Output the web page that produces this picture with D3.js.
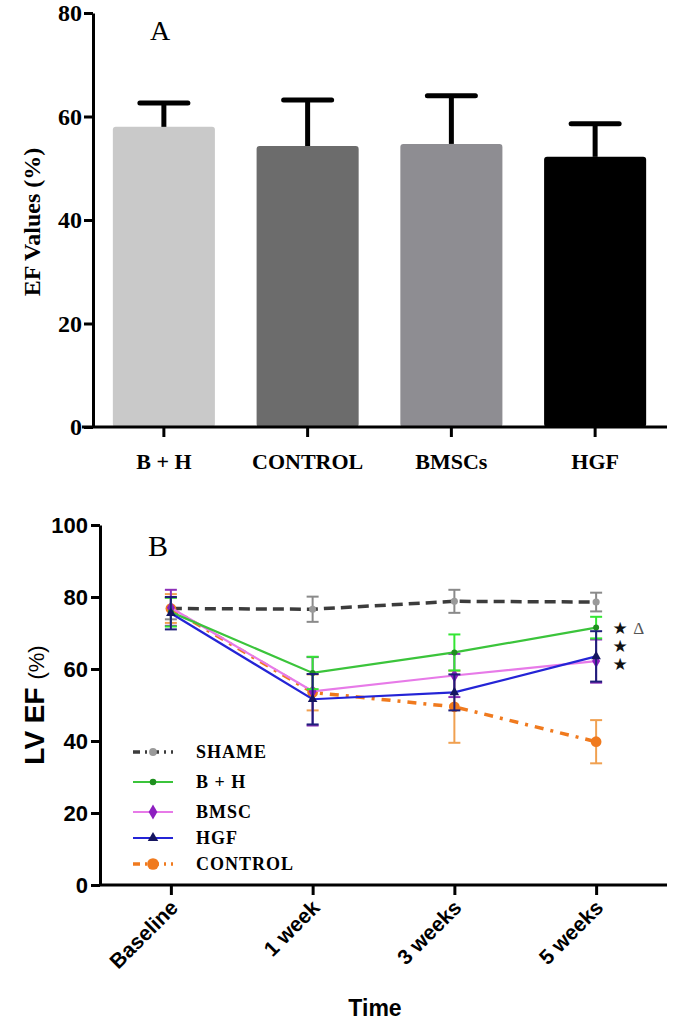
<!DOCTYPE html>
<html>
<head>
<meta charset="utf-8">
<script src="https://cdn.jsdelivr.net/npm/d3@7"></script>
<style>
  body { margin: 0; background: #fff; }
  svg { display: block; }
</style>
</head>
<body>
<svg id="chart" width="675" height="1028"></svg>
<script>
// ---- panel A data ----
const barGroups = ["B + H", "CONTROL", "BMSCs", "HGF"];
const barMeans = [58.0, 54.3, 54.7, 52.2];
const barErrors = [4.6, 8.9, 9.3, 6.4];
const barTicks = [0, 20, 40, 60, 80];

// ---- panel B data ----
const timePoints = ["Baseline", "1 week", "3 weeks", "5 weeks"];
const seriesNames = ["SHAME", "B + H", "BMSC", "HGF", "CONTROL"];
const shameMeans = [76.8, 76.6, 78.8, 78.6];
const shameErrors = [3.0, 3.5, 3.2, 2.6];
const bhMeans = [75.8, 58.9, 64.6, 71.5];
const bhErrors = [4.0, 4.5, 5.0, 3.0];
const bmscMeans = [77.0, 53.8, 58.2, 62.2];
const bmscErrors = [5.0, 9.5, 6.0, 6.0];
const hgfMeans = [75.5, 51.6, 53.5, 63.5];
const hgfErrors = [4.5, 7.0, 5.0, 7.0];
const controlMeans = [76.8, 53.5, 49.5, 39.8];
const controlErrors = [4.0, 5.0, 10.0, 6.0];
const lineTicks = [0, 20, 40, 60, 80, 100];
const starLevels = [71.5, 66.5, 61.5];

const svg = d3.select("#chart");
const serif = "'Liberation Serif', 'Times New Roman', serif";
const sans = "'Liberation Sans', Arial, sans-serif";

// ================= panel A =================
const barColours = ["#c9c9c9", "#6c6c6c", "#8e8d92", "#000000"];
const xA = d3.scaleBand().domain(barGroups).range([92, 667])
  .paddingInner(0.29).paddingOuter(0.145);
const yA = d3.scaleLinear().domain([0, 80]).range([427, 13]);

const gA = svg.append("g");

gA.selectAll(".bar")
  .data(barGroups)
  .enter()
  .append("rect")
  .attr("class", "bar")
  .attr("x", (d) => xA(d))
  .attr("width", xA.bandwidth())
  .attr("y", (d, i) => yA(barMeans[i]))
  .attr("height", (d, i) => yA(0) - yA(barMeans[i]))
  .attr("rx", 3)
  .attr("fill", (d, i) => barColours[i]);

// upward error bars only
const errA = gA.selectAll(".err").data(barGroups).enter().append("g");
errA.append("line")
  .attr("x1", (d) => xA(d) + xA.bandwidth() / 2)
  .attr("x2", (d) => xA(d) + xA.bandwidth() / 2)
  .attr("y1", (d, i) => yA(barMeans[i]))
  .attr("y2", (d, i) => yA(barMeans[i] + barErrors[i]))
  .attr("stroke", "#000").attr("stroke-width", 5);
errA.append("line")
  .attr("x1", (d) => xA(d) + xA.bandwidth() / 2 - 24)
  .attr("x2", (d) => xA(d) + xA.bandwidth() / 2 + 24)
  .attr("y1", (d, i) => yA(barMeans[i] + barErrors[i]))
  .attr("y2", (d, i) => yA(barMeans[i] + barErrors[i]))
  .attr("stroke", "#000").attr("stroke-width", 5).attr("stroke-linecap", "round");

const axA = gA.append("g").attr("transform", "translate(93,0)")
  .call(d3.axisLeft(yA).tickValues(barTicks).tickSize(9).tickPadding(2).tickSizeOuter(0));
axA.selectAll("text").attr("font-family", serif).attr("font-weight", "bold")
  .attr("font-size", 24).attr("fill", "#000");

const axAx = gA.append("g").attr("transform", "translate(0,427)")
  .call(d3.axisBottom(xA).tickSize(10).tickPadding(16).tickSizeOuter(0));
axAx.selectAll("text").attr("font-family", serif).attr("font-weight", "bold")
  .attr("font-size", 22).attr("fill", "#000");
axAx.select(".domain").attr("d", "M82,0H667");
[axA, axAx].forEach((a) => {
  a.select(".domain").attr("stroke", "#000").attr("stroke-width", 3);
  a.selectAll(".tick line").attr("stroke", "#000").attr("stroke-width", 3);
});

gA.append("text")
  .attr("transform", "translate(40,222) rotate(-90)")
  .attr("text-anchor", "middle")
  .attr("font-family", serif).attr("font-weight", "bold").attr("font-size", 24)
  .text("EF Values (%)");

gA.append("text").attr("x", 160).attr("y", 40).attr("text-anchor", "middle")
  .attr("font-family", serif).attr("font-size", 28).text("A");

// ================= panel B =================
const xB = d3.scalePoint().domain(timePoints).range([100, 667]).padding(0.5);
const yB = d3.scaleLinear().domain([0, 100]).range([885, 525]);

const gB = svg.append("g");

const series = [
  { name: "SHAME", means: shameMeans, errs: shameErrors, line: "#3c3c3c", err: "#8a8a8a",
    mark: "#9a9a9a", dash: "11,6", width: 3.5, symbol: d3.symbolCircle, size: 40 },
  { name: "CONTROL", means: controlMeans, errs: controlErrors, line: "#f07a1e", err: "#f0a050",
    mark: "#f07a1e", dash: "9,7,3,7", width: 3.5, symbol: d3.symbolCircle, size: 90 },
  { name: "BMSC", means: bmscMeans, errs: bmscErrors, line: "#e77ae8", err: "#8d2fb8",
    mark: "#8d1fc0", dash: null, width: 2.2, symbol: d3.symbolDiamond, size: 55 },
  { name: "B + H", means: bhMeans, errs: bhErrors, line: "#3bc43b", err: "#33e633",
    mark: "#1f8f1f", dash: null, width: 2.2, symbol: d3.symbolCircle, size: 28 },
  { name: "HGF", means: hgfMeans, errs: hgfErrors, line: "#2424d6", err: "#1e1e7a",
    mark: "#151560", dash: null, width: 2.2, symbol: d3.symbolTriangle, size: 40 },
];

const line = d3.line().x((d) => xB(d.t)).y((d) => yB(d.v));

series.forEach((s) => {
  const pts = timePoints.map((t, i) => ({ t: t, v: s.means[i], e: s.errs[i] }));
  const g = gB.append("g");
  // error bars
  const eb = g.selectAll(".eb").data(pts).enter().append("g")
    .attr("stroke", s.err).attr("stroke-width", 2);
  eb.append("line")
    .attr("x1", (d) => xB(d.t)).attr("x2", (d) => xB(d.t))
    .attr("y1", (d) => yB(d.v + d.e)).attr("y2", (d) => yB(d.v - d.e));
  [1, -1].forEach((sg) => {
    eb.append("line")
      .attr("x1", (d) => xB(d.t) - 6).attr("x2", (d) => xB(d.t) + 6)
      .attr("y1", (d) => yB(d.v + sg * d.e)).attr("y2", (d) => yB(d.v + sg * d.e));
  });
  g.append("path").datum(pts)
    .attr("d", line).attr("fill", "none")
    .attr("stroke", s.line).attr("stroke-width", s.width)
    .attr("stroke-dasharray", s.dash);
  g.selectAll(".pt").data(pts).enter().append("path")
    .attr("transform", (d) => "translate(" + xB(d.t) + "," + yB(d.v) + ")")
    .attr("d", d3.symbol().type(s.symbol).size(s.size))
    .attr("fill", s.mark);
});

// significance marks at 5 weeks
const lastX = xB(timePoints[3]) + 24;
starLevels.forEach((v, i) => {
  gB.append("text").attr("x", lastX).attr("y", yB(v) + 6).attr("text-anchor", "middle")
    .attr("font-family", "'DejaVu Sans', sans-serif").attr("font-size", 17).attr("fill", "#111")
    .text("\u2605");
  if (i === 0) {
    gB.append("text").attr("x", lastX + 13).attr("y", yB(v) + 6)
      .attr("font-family", serif).attr("font-size", 17).attr("fill", "#555").text("\u0394");
  }
});

const axB = gB.append("g").attr("transform", "translate(100,0)")
  .call(d3.axisLeft(yB).tickValues(lineTicks).tickSize(9).tickPadding(3).tickSizeOuter(0));
axB.selectAll("text").attr("font-family", sans).attr("font-weight", "bold")
  .attr("font-size", 22).attr("fill", "#000");

const axBx = gB.append("g").attr("transform", "translate(0,885)")
  .call(d3.axisBottom(xB).tickSize(10).tickSizeOuter(0));
axBx.select(".domain").attr("d", "M100,0H667");
axBx.selectAll("text")
  .attr("font-family", sans).attr("font-weight", "bold").attr("font-size", 21)
  .attr("fill", "#000").attr("text-anchor", "end")
  .attr("dy", null).attr("y", 0)
  .attr("transform", "translate(8,24) rotate(-45)");
[axB, axBx].forEach((a) => {
  a.select(".domain").attr("stroke", "#000").attr("stroke-width", 3);
  a.selectAll(".tick line").attr("stroke", "#000").attr("stroke-width", 3);
});

gB.append("text").attr("x", 375).attr("y", 1016).attr("text-anchor", "middle")
  .attr("font-family", sans).attr("font-weight", "bold").attr("font-size", 23).text("Time");

const yTitle = gB.append("text")
  .attr("transform", "translate(44,705) rotate(-90)")
  .attr("text-anchor", "middle").attr("font-family", sans);
yTitle.append("tspan").attr("font-weight", "bold").attr("font-size", 28).text("LV EF ");
yTitle.append("tspan").attr("font-size", 22).text("(%)");

gB.append("text").attr("x", 158).attr("y", 556).attr("text-anchor", "middle")
  .attr("font-family", serif).attr("font-size", 30).text("B");

// legend
const legendOrder = ["SHAME", "B + H", "BMSC", "HGF", "CONTROL"];
const legendY = [752, 782, 812, 838, 864];
legendOrder.forEach((name, i) => {
  const s = series.find((d) => d.name === name);
  const y = legendY[i];
  const lg = gB.append("g");
  lg.append("line").attr("x1", 133).attr("x2", 173).attr("y1", y).attr("y2", y)
    .attr("stroke", s.line).attr("stroke-width", s.width)
    .attr("stroke-dasharray", s.dash ? "7,5,2,5" : null);
  lg.append("path").attr("transform", "translate(153," + y + ")")
    .attr("d", d3.symbol().type(s.symbol).size(s.size * 1.2))
    .attr("fill", s.mark);
  lg.append("text").attr("x", 196).attr("y", y + 6)
    .attr("font-family", serif).attr("font-weight", "bold").attr("font-size", 18)
    .attr("letter-spacing", 1).text(seriesNames[seriesNames.indexOf(name)]);
});
</script>
</body>
</html>
